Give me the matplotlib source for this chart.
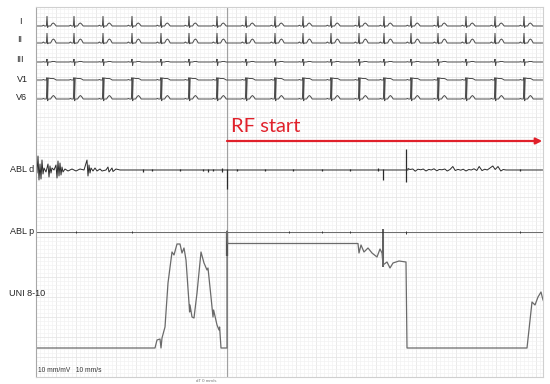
import numpy as np
import matplotlib
matplotlib.use('Agg')
import matplotlib.pyplot as plt
from matplotlib.ticker import MultipleLocator

# ---------------- data (time in s, amplitude in mV) ----------------
lead_names = ['I', 'II', 'III', 'V1', 'V6']
beat_times = [0.275, 0.95, 1.675, 2.4, 3.125, 3.825, 4.525, 5.25, 5.975, 6.675,
              7.375, 8.075, 8.7, 9.375, 10.05, 10.75, 11.475, 12.2]
tmpl_t = [-0.12, -0.09, -0.06, -0.015, 0.0, 0.015, 0.03, 0.09, 0.13, 0.16, 0.19, 0.23]
amp_I = [0, 0.08, 0, 0, 1.0, -0.15, 0, 0, 0.25, 0.3, 0.2, 0]
amp_II = [0, 0.1, 0, 0, 1.0, -0.1, 0, 0, 0.3, 0.4, 0.3, 0]
amp_III = [0, 0.03, 0, 0, 0.3, -0.35, 0, 0, 0.05, 0.05, 0.05, 0]
amp_V1 = [0, 0.05, 0, 0, 0.25, -1.8, 0.2, 0.15, 0.15, 0.15, 0.1, 0]
amp_V6 = [0, 0.05, 0, 0, 1.9, -0.2, 0, 0, 0.25, 0.35, 0.25, 0]

rf_start = 4.775
t_end = 12.675

# ABL d : noisy early segment
abld_t1 = [0.0, 0.025, 0.05, 0.075, 0.1, 0.125, 0.15, 0.175, 0.2, 0.25, 0.3, 0.325,
           0.35, 0.375, 0.4, 0.45, 0.5, 0.525, 0.55, 0.575, 0.6, 0.625, 0.65, 0.675,
           0.725, 0.8, 0.9, 1.0, 1.1, 1.2, 1.275, 1.3, 1.325, 1.35, 1.375, 1.425,
           1.475, 1.525, 1.6, 1.65, 1.75, 1.8, 1.825, 1.9, 1.925, 2.0, 2.1]
abld_v1 = [0, -0.3, 1.4, -1.0, 0.6, -0.9, 1.0, -0.4, 0.2, -0.2, 0.6, -0.7,
           0.4, -0.3, 0.2, 0, 0.5, -0.8, 0.9, -0.6, 0.7, -0.5, 0.3, -0.2,
           0.1, -0.1, 0.1, -0.1, 0.1, 0, 1.0, -0.6, 0.5, -0.3, 0.2, -0.1,
           0.2, -0.1, 0.1, -0.1, 0, 0.3, -0.2, 0.2, -0.15, 0.1, 0]
# ABL d : noise after ablation effect
abld_t2 = [9.3, 9.35, 9.42, 9.48, 9.55, 9.62, 9.68, 9.75, 9.82, 9.88, 9.95, 10.02,
           10.08, 10.15, 10.22, 10.28, 10.35, 10.42, 10.48, 10.55, 10.62, 10.68,
           10.75, 10.82, 10.88, 10.95, 11.02, 11.08, 11.15, 11.22, 11.28, 11.35,
           11.42, 11.48, 11.55, 11.62, 11.68, 11.75, 11.9]
abld_v2 = [0.15, 0.05, 0.1, -0.12, 0.08, 0.02, 0.1, -0.1, 0.06, 0.0, 0.12, -0.08,
           0.05, 0.02, 0.1, -0.1, 0.05, 0.35, -0.05, 0.06, -0.02, 0.08,
           -0.1, 0.05, 0.0, 0.12, -0.05, 0.35, -0.06, 0.08, 0.0, 0.2,
           0.4, 0.05, 0.35, -0.1, 0.05, 0.0, 0]
abld_spk_t = [2.675, 2.9, 3.6, 4.175, 4.3, 4.425, 4.65, 4.775, 5.025, 5.725, 6.425,
              7.15, 7.85, 8.55, 8.675, 9.25, 12.1]
abld_spk_hi = [0.15, 0.1, 0.15, 0.15, 0.1, 0.15, 0.2, 0.1, 0.15, 0.15, 0.15,
               0.15, 0.15, 0.2, 0.1, 2.1, 0.1]
abld_spk_lo = [-0.15, -0.1, -0.1, -0.1, -0.15, -0.1, -0.15, -1.9, -0.1, -0.1, -0.1,
               -0.1, -0.1, -0.1, -1.0, -1.2, -0.1]

# ABL p spikes
ablp_spk_t = [1.0, 2.4, 4.775, 6.325, 7.15, 7.85, 8.675, 9.25, 12.1]
ablp_spk_hi = [0.1, 0.1, 0.0, 0.1, 0.1, 0.1, 0.3, 0.15, 0.1]
ablp_spk_lo = [-0.1, -0.1, -2.4, -0.1, -0.1, -0.1, -3.5, -0.15, -0.1]

# UNI 8-10
uni_t = [0.0, 2.975, 3.025, 3.1, 3.125, 3.15, 3.225, 3.3, 3.4, 3.45, 3.525, 3.6,
         3.65, 3.7, 3.75, 3.825, 3.84, 3.85, 3.9, 3.95, 4.025, 4.125, 4.2, 4.275,
         4.3, 4.375, 4.425, 4.44, 4.525, 4.575, 4.59, 4.625, 4.75, 4.775, 4.775,
         4.79, 8.05, 8.075, 8.125, 8.2, 8.3, 8.4, 8.525, 8.6, 8.65, 8.675, 8.775,
         8.85, 8.925, 9.075, 9.25, 9.275, 12.275, 12.4, 12.475, 12.55, 12.625, 12.675]
uni_v = [0, 0, 0.8, 0.9, 0, 1.0, 2.1, 6.5, 9.6, 9.3, 10.4, 10.4,
         9.5, 10.0, 8.8, 4.5, 3.6, 4.3, 3.1, 3.0, 5.5, 9.6, 8.5, 7.8,
         8.0, 5.1, 3.1, 3.8, 2.3, 1.8, 2.1, 0, 0, 0, 11.7,
         10.45, 10.45, 9.5, 10.3, 9.6, 10.0, 9.5, 9.1, 9.9, 9.5, 8.3, 8.6,
         8.0, 8.5, 8.7, 8.6, 0, 0, 4.6, 4.3, 5.1, 5.6, 4.8]

# ---------------- layout ----------------
W, H = 550, 384
fig = plt.figure(figsize=(W / 100, H / 100), dpi=100)
fig.patch.set_facecolor('white')
px_l, px_r, px_t, px_b = 36, 543, 7, 377
ax = fig.add_axes([px_l / W, 1 - px_b / H, (px_r - px_l) / W, (px_b - px_t) / H])
ax.set_xlim(0, t_end)
ax.set_ylim(0, 37.0)

ax.xaxis.set_major_locator(MultipleLocator(0.5))
ax.xaxis.set_minor_locator(MultipleLocator(0.1))
ax.yaxis.set_major_locator(MultipleLocator(2.0))
ax.yaxis.set_minor_locator(MultipleLocator(0.4))
ax.grid(which='minor', color='#f2f2f2', lw=0.45)
ax.grid(which='major', color='#e4e4e4', lw=0.55)
ax.tick_params(which='both', length=0, labelbottom=False, labelleft=False)
ax.set_axisbelow(True)
for s in ['top', 'right', 'bottom']:
    ax.spines[s].set_color('#d0d0d0')
    ax.spines[s].set_linewidth(0.8)
ax.spines['left'].set_color('#a8a8a8')
ax.spines['left'].set_linewidth(0.8)

base = {'I': 35.1, 'II': 33.4, 'III': 31.5, 'V1': 29.7, 'V6': 27.8,
        'ABL d': 20.7, 'ABL p': 14.5, 'UNI 8-10': 2.9}
label_px = {'I': (20, 21, 'center'), 'II': (20, 40, 'center'), 'III': (20, 60, 'center'),
            'V1': (22, 79, 'center'), 'V6': (22, 97, 'center'),
            'ABL d': (10, 170, 'left'), 'ABL p': (10, 231, 'left'),
            'UNI 8-10': (9, 293, 'left')}

amps = {'I': amp_I, 'II': amp_II, 'III': amp_III, 'V1': amp_V1, 'V6': amp_V6}
ecg_col = '#4a4a4a'
for name in lead_names:
    tt = [0.0]
    vv = [0.0]
    for bt in beat_times:
        tt += [bt + d for d in tmpl_t]
        vv += list(amps[name])
    tt.append(t_end)
    vv.append(0.0)
    ax.plot(tt, np.array(vv) + base[name], color=ecg_col, lw=0.7, solid_joinstyle='miter')

# RF start vertical line
ax.axvline(rf_start, color='#a0a0a0', lw=0.8, zorder=1)

# ABL d
b = base['ABL d']
t_abld = abld_t1 + [abld_t2[0]] + abld_t2 + [t_end]
v_abld = abld_v1 + [0] + abld_v2 + [0]
ax.plot(t_abld, np.array(v_abld) + b, color='#2a2a2a', lw=0.7)
ax.vlines(abld_spk_t, np.array(abld_spk_lo) + b, np.array(abld_spk_hi) + b,
          color='#2a2a2a', lw=0.9)

# ABL p
b = base['ABL p']
ax.plot([0, t_end], [b, b], color='#6a6a6a', lw=0.7)
ax.vlines(ablp_spk_t, np.array(ablp_spk_lo) + b, np.array(ablp_spk_hi) + b,
          color='#333333', lw=[0.7, 0.7, 1.6, 0.7, 0.7, 0.7, 1.1, 0.7, 0.7])

# UNI
b = base['UNI 8-10']
ax.plot(uni_t, np.array(uni_v) + b, color='#6a6a6a', lw=0.9)

# RF start arrow and text
arrow_y = 23.6
ax.annotate('', xy=(t_end - 0.02, arrow_y), xytext=(rf_start, arrow_y),
            arrowprops=dict(arrowstyle='-|>', color='#e0202a', lw=1.6,
                            mutation_scale=9, shrinkA=0, shrinkB=0))
ax.text(rf_start + 0.1, 24.5, 'RF start', color='#e0202a', fontsize=14.5,
        family='Lato', va='baseline', ha='left')

# labels
for name, (x, y, ha) in label_px.items():
    fig.text(x / W, 1 - y / H, name, fontsize=6.5, family='Liberation Sans',
             color='#222222', ha=ha, va='center')

fig.text(38 / W, 1 - 370 / H, '10 mm/mV   10 mm/s', fontsize=4.8,
         family='Liberation Sans', color='#333333', va='center')
fig.text(206 / W, 1 - 381 / H, 'dT 0 mm/s', fontsize=3.2,
         family='Liberation Sans', color='#777777', va='center', ha='center')

fig.savefig('out.png', dpi=100, facecolor='white')
